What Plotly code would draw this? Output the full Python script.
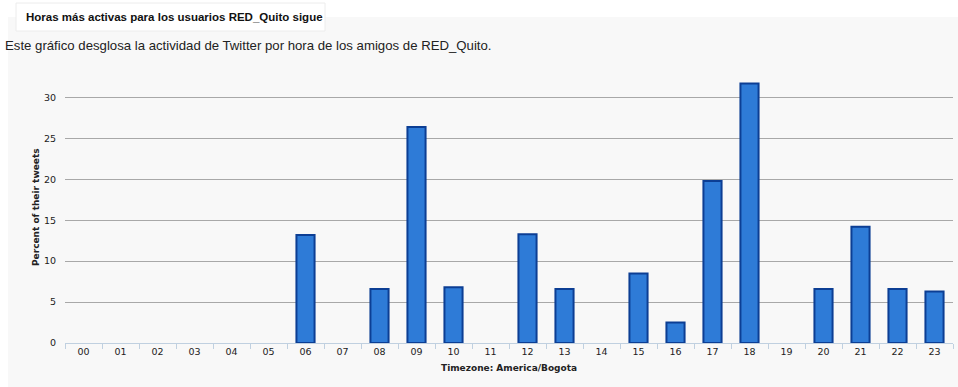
import plotly.graph_objects as go

hours = ["00", "01", "02", "03", "04", "05", "06", "07", "08", "09", "10", "11",
         "12", "13", "14", "15", "16", "17", "18", "19", "20", "21", "22", "23"]
percent = [0, 0, 0, 0, 0, 0, 13.2, 0, 6.6, 26.4, 6.8, 0,
           13.3, 6.6, 0, 8.5, 2.5, 19.8, 31.7, 0, 6.6, 14.2, 6.6, 6.3]
y_ticks = [0, 5, 10, 15, 20, 25, 30]

title_text = "Horas más activas para los usuarios RED_Quito sigue"
subtitle_text = "Este gráfico desglosa la actividad de Twitter por hora de los amigos de RED_Quito."
y_title = "Percent of their tweets"
x_title = "Timezone: America/Bogota"

W, H = 958, 387
L, R, T, B = 65, 5, 77, 44
PW, PH = W - L - R, H - T - B


def px(x):
    return (x - L) / PW


def py(y):
    return (H - B - y) / PH


BG = "#f8f8f8"

fig = go.Figure()
fig.add_trace(go.Bar(
    x=hours,
    y=[v if v > 0 else None for v in percent],
    marker=dict(color="#2e7bd7", line=dict(color="#0c3e94", width=2)),
    hoverinfo="x+y",
))

shapes = [
    dict(type="rect", xref="paper", yref="paper", x0=px(0), x1=px(W), y0=py(17), y1=py(0),
         fillcolor="white", line=dict(width=0), layer="below"),
    dict(type="rect", xref="paper", yref="paper", x0=px(0), x1=px(8), y0=py(H), y1=py(0),
         fillcolor="white", line=dict(width=0), layer="below"),
    dict(type="rect", xref="paper", yref="paper", x0=px(16), x1=px(325), y0=py(31), y1=py(3),
         fillcolor="white", line=dict(width=1, color="#ececec"), layer="below"),
]

annotations = [
    dict(text="<b>" + title_text + "</b>", xref="paper", yref="paper", x=px(24), y=py(17),
         xanchor="left", yanchor="middle", showarrow=False,
         font=dict(family="Liberation Sans, Arial", size=11.5, color="#111")),
    dict(text=subtitle_text, xref="paper", yref="paper", x=px(3), y=py(46),
         xanchor="left", yanchor="middle", showarrow=False,
         font=dict(family="Liberation Sans, Arial", size=13.2, color="#222")),
    dict(text="<b>" + y_title + "</b>", xref="paper", yref="paper", x=px(36), y=py(207),
         xanchor="center", yanchor="middle", showarrow=False, textangle=-90,
         font=dict(family="DejaVu Sans", size=9, color="#222")),
    dict(text="<b>" + x_title + "</b>", xref="paper", yref="paper", x=px(509), y=py(368),
         xanchor="center", yanchor="middle", showarrow=False,
         font=dict(family="DejaVu Sans", size=9, color="#222")),
]

fig.update_layout(
    width=W, height=H,
    margin=dict(l=L, r=R, t=T, b=B, pad=0),
    paper_bgcolor=BG, plot_bgcolor=BG,
    bargap=0.51,
    showlegend=False,
    shapes=shapes,
    annotations=annotations,
    xaxis=dict(
        type="category", categoryorder="array", categoryarray=hours,
        range=[-0.5, 23.5],
        showgrid=False, zeroline=False,
        showline=True, linecolor="#c0d0e0", linewidth=1,
        ticks="outside", tickson="boundaries", ticklen=5, tickcolor="#c0d0e0", tickwidth=1,
        tickfont=dict(family="DejaVu Sans", size=9.5, color="#222"),
        fixedrange=True,
    ),
    yaxis=dict(
        range=[0, 32.5],
        tickvals=y_ticks, ticktext=[str(t) for t in y_ticks],
        showgrid=True, gridcolor="#a8a8a8", gridwidth=1,
        zeroline=False, showline=False, ticks="",
        ticklabelstandoff=8,
        tickfont=dict(family="DejaVu Sans", size=9.5, color="#222"),
        fixedrange=True,
    ),
)

fig.write_html("out.html")
